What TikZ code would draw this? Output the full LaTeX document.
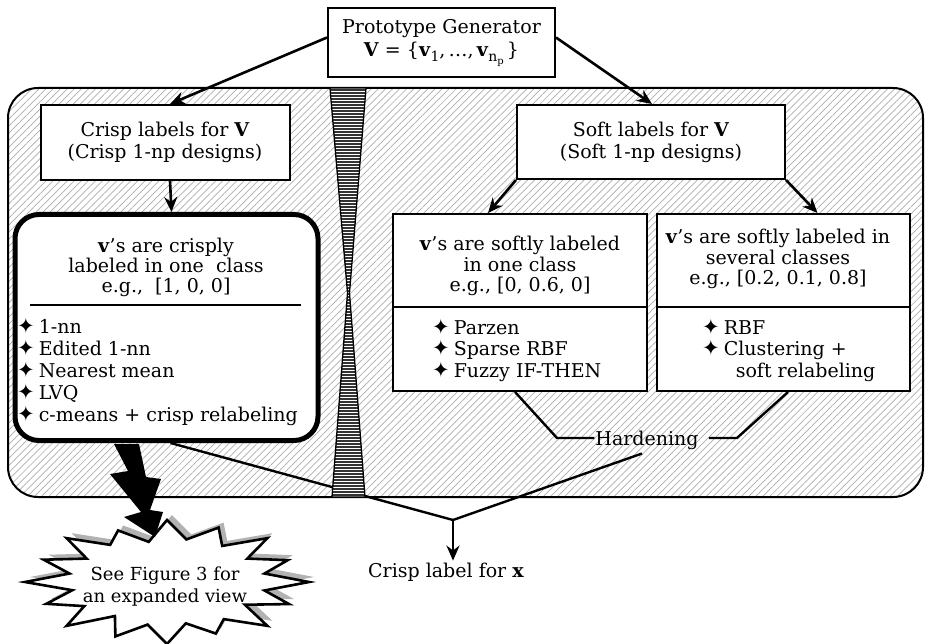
\documentclass[tikz,border=0pt]{standalone}
\usepackage{fontspec}
\setmainfont{DejaVu Serif}
\newfontfamily\symfnt{DejaVu Sans}
\usetikzlibrary{patterns,patterns.meta,arrows.meta}
\tikzset{
  box/.style={draw, line width=2pt, fill=white, align=center, inner sep=0pt},
  txt/.style={inner sep=0pt, align=center},
  ltxt/.style={inner sep=0pt, align=left},
  arr/.style={line width=2.6pt, -{Stealth[length=15pt,width=13pt]}},
  conn/.style={line width=2.4pt},
}
\newcommand{\bul}{{\symfnt\fontsize{21}{21}\selectfont\char"2726}\hspace{4pt}}
\newcommand{\burstshape}[1]{%
  \path[#1] ({167+142},582)
   \foreach \i/\f/\g in {0/1/0.7,1/0.93/0.66,2/1/0.72,3/0.9/0.68,4/1/0.7,5/0.95/0.66,6/1/0.7,7/0.92/0.68,
                         8/1/0.7,9/0.94/0.68,10/1/0.72,11/0.9/0.66,12/1/0.7,13/0.95/0.7,14/1/0.68,15/0.92/0.7}
   { -- ({167+142*\f*cos(\i*22.5)},{582+62*\f*sin(\i*22.5)})
     -- ({167+142*\g*cos(\i*22.5+11.25)},{582+62*\g*sin(\i*22.5+11.25)}) } -- cycle;}
\newcommand{\lowsub}[1]{\raisebox{-5pt}{\fontsize{14}{14}\selectfont #1}}
\begin{document}
\begin{tikzpicture}[x=1pt,y=-1pt,font=\fontsize{19}{22}\selectfont]
\useasboundingbox (0,0) rectangle (929,644);
% background panel
\draw[line width=2pt, pattern={Lines[angle=45,distance=5pt,line width=0.7pt]}, pattern color=gray!65, rounded corners=30pt]
  (8,88) rectangle (923,497);
% top box
\node[box, minimum width=227pt, minimum height=69pt] (proto) at (441.5,42.5)
  {Prototype Generator\\[1pt] \textbf{V} = \{\textbf{v}\lowsub{1},\,\ldots,\,\textbf{v}\lowsub{n\raisebox{-3pt}{\fontsize{10}{10}\selectfont p}}\,\}};
% first level
\node[box, minimum width=249pt, minimum height=75pt] (crisp) at (165,142.5)
  {Crisp labels for \textbf{V}\\(Crisp 1-np designs)};
\node[box, minimum width=268pt, minimum height=74pt] (soft) at (651,142)
  {Soft labels for \textbf{V}\\(Soft 1-np designs)};
% crisp design box
\node[draw, line width=5pt, fill=white, rounded corners=24pt, minimum width=303pt, minimum height=226pt] (cbox) at (166.5,327.5) {};
\node[txt, font=\fontsize{19}{20}\selectfont] (ctop) at (166,267)
  {\textbf{v}'s are crisply\\labeled in one\ \ class\\e.g.,\ \ [1, 0, 0]};
\draw[line width=1.5pt] (30,305) -- (301,305);
\node[ltxt, anchor=west] (citems) at (17,372)
  {\bul 1-nn\\\bul Edited 1-nn\\\bul Nearest mean\\\bul LVQ\\\bul c-means + crisp relabeling};
% soft one-class box
\node[box, minimum width=254pt, minimum height=177pt] (sone) at (520,302.5) {};
\node[txt, font=\fontsize{19}{20.5}\selectfont] (sonetop) at (520,266)
  {\textbf{v}'s are softly labeled\\in one class\\e.g., [0, 0.6, 0]};
\draw[line width=1.5pt] (sone.west |- 0,307) -- (sone.east |- 0,307);
\node[ltxt, anchor=west, font=\fontsize{19}{21.5}\selectfont] (soneitems) at (432,350)
  {\bul Parzen\\\bul Sparse RBF\\\bul Fuzzy IF-THEN};
% soft several-class box
\node[box, minimum width=253pt, minimum height=177pt] (ssev) at (783.5,302.5) {};
\node[txt, font=\fontsize{19}{20.5}\selectfont] (ssevtop) at (778,259)
  {\textbf{v}'s are softly labeled in\\several classes\\e.g., [0.2, 0.1, 0.8]};
\draw[line width=1.5pt] (ssev.west |- 0,307) -- (ssev.east |- 0,307);
\node[ltxt, anchor=west, font=\fontsize{19}{21.5}\selectfont] (ssevitems) at (702,350)
  {\bul RBF\\\bul Clustering +\\\phantom{\bul}\hspace{12pt}soft relabeling};
% arrows
\draw[arr] ([yshift=5pt]proto.west) -- ([xshift=5pt]crisp.north);
\draw[arr] ([yshift=5pt]proto.east) -- ([xshift=1pt]soft.north);
\draw[arr] ([xshift=5pt]crisp.south) -- ([xshift=5pt]cbox.north);
\draw[arr] (soft.south west) -- ([xshift=-32pt]sone.north);
\draw[arr] (soft.south east) -- ([xshift=34pt]ssev.north);
% hardening
\node[txt] (hard) at (647,440) {Hardening};
\draw[conn] ([xshift=-5pt]sone.south) -- (557,438) -- ([xshift=-1pt]hard.west |- 0,438);
\draw[conn] ([xshift=4.5pt]ssev.south) -- (737,438) -- ([xshift=10pt]hard.east |- 0,438);
% merge
\coordinate (j) at (453,520);
\node[txt] (clx) at (446,572) {Crisp label for \textbf{x}};
\draw[conn] ([xshift=4pt]cbox.south) -- (j);
\draw[conn] ([xshift=-5pt,yshift=-4pt]hard.south) -- (j);
\draw[arr] (j) -- ([yshift=2pt]j |- clx.north);
% hourglass bar
\fill[black!80] (330,88) -- (366,88) -- (349.5,293) -- (365,497) -- (332,497) -- (347.5,293) -- cycle;
\fill[pattern=horizontal lines, pattern color=white] (330,88) -- (366,88) -- (349.5,293) -- (365,497) -- (332,497) -- (347.5,293) -- cycle;
\draw[line width=1.3pt] (330,88) -- (366,88) -- (349.5,293) -- (365,497) -- (332,497) -- (347.5,293) -- cycle;
% starburst
\burstshape{fill=gray!60, shift={(5pt,5pt)}}
\burstshape{fill=white, draw=black, line width=2.6pt, line join=miter}
\node[txt, font=\fontsize{18}{22}\selectfont] (see) at (165,587) {See Figure 3 for\\an expanded view};
% lightning bolt
\fill (114,444) -- (139,444) -- (146,477) -- (161,479) -- (150,510) -- (163,512) -- (155,537)
      -- (124,517) -- (141,512) -- (110,474) -- (128,471) -- cycle;
\end{tikzpicture}
\end{document}
